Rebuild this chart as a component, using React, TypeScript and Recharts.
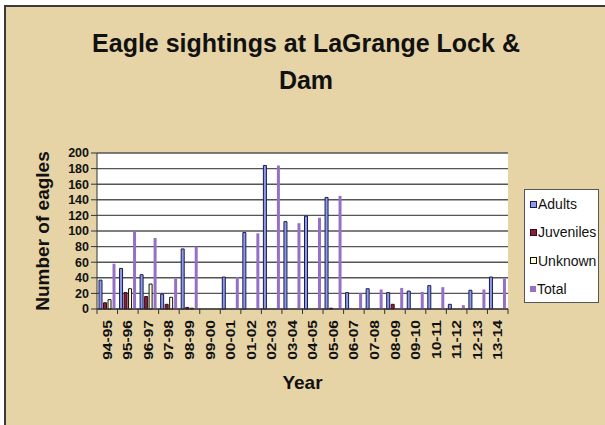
import { BarChart, Bar, XAxis, YAxis, CartesianGrid, Label } from "recharts";

// values
const years = [
  "94-95", "95-96", "96-97", "97-98", "98-99", "99-00", "00-01", "01-02", "02-03", "03-04",
  "04-05", "05-06", "06-07", "07-08", "08-09", "09-10", "10-11", "11-12", "12-13", "13-14",
];
const adults = [37, 52, 44, 19, 77, 0, 41, 98, 184, 112, 119, 143, 21, 26, 21, 23, 30, 6, 24, 41];
const juveniles = [8, 21, 16, 6, 2, 0, 0, 0, 0, 0, 0, 1, 0, 0, 6, 0, 0, 0, 0, 0];
const unknown = [12, 26, 32, 15, 1, 0, 0, 0, 0, 0, 0, 0, 0, 0, 0, 0, 0, 0, 0, 0];
const total = [58, 99, 91, 39, 80, 0, 41, 97, 184, 110, 117, 145, 20, 25, 27, 22, 28, 5, 25, 39];
const yTicks = [0, 20, 40, 60, 80, 100, 120, 140, 160, 180, 200];

const data = years.map((year, i) => ({
  year,
  Adults: adults[i],
  Juveniles: juveniles[i],
  Unknown: unknown[i],
  Total: total[i],
}));

const series = [
  { key: "Adults", fill: "#8c9cec", stroke: "#1b1b4e" },
  { key: "Juveniles", fill: "#86203e", stroke: "#3a0818" },
  { key: "Unknown", fill: "#ffffdc", stroke: "#111" },
  { key: "Total", fill: "#9670c6", stroke: "none" },
];

const FONT = '"Liberation Sans", Arial, sans-serif';

const YearTick = (props: any) => {
  const { x, y, payload, index } = props;
  const off = payload?.offset ?? 0;
  const ty = y + 11;
  return (
    <g>
      <line x1={x - off} x2={x - off} y1={y} y2={y + 5} stroke="#333" />
      {index === years.length - 1 && (
        <line x1={x + off} x2={x + off} y1={y} y2={y + 5} stroke="#333" />
      )}
      <text
        x={0}
        y={0}
        transform={`translate(${x} ${ty}) rotate(-90) scale(1.2 1)`}
        textAnchor="end"
        dominantBaseline="central"
        fontSize={13}
        fontWeight="bold"
        fontFamily={FONT}
        fill="#111"
      >
        {payload.value}
      </text>
    </g>
  );
};

const App = () => {
  return (
    <div
      style={{
        position: "absolute",
        left: 0,
        top: 0,
        width: 605,
        height: 425,
        background: "#fff",
        overflow: "hidden",
        fontFamily: FONT,
      }}
    >
      <div
        style={{
          position: "absolute",
          left: 4,
          top: 5,
          right: 0,
          bottom: 0,
          background: "#e7d4a6",
          borderTop: "2px solid #3a3a3a",
          borderLeft: "2px solid #3a3a3a",
        }}
      />
      <div
        style={{
          position: "absolute",
          left: 56,
          top: 25,
          width: 500,
          textAlign: "center",
          fontSize: 25,
          fontWeight: "bold",
          lineHeight: "37px",
          color: "#111",
        }}
      >
        Eagle sightings at LaGrange Lock &amp;
        <br />
        Dam
      </div>
      <div style={{ position: "absolute", left: 0, top: 0 }}>
        <BarChart
          width={605}
          height={425}
          data={data}
          margin={{ top: 153, right: 97, bottom: 0, left: 0 }}
          barGap={1.5}
          barSize={3}
        >
          <CartesianGrid vertical={false} fill="#fff" stroke="#555" strokeWidth={1.4} />
          <XAxis
            dataKey="year"
            interval={0}
            height={116}
            tickLine={false}
            tickSize={0}
            tickMargin={0}
            axisLine={{ stroke: "#333" }}
            tick={<YearTick />}
          >
            <Label
              content={(p: any) => {
                const vb = p.viewBox;
                return (
                  <text
                    x={vb.x + vb.width / 2}
                    y={vb.y + 73}
                    textAnchor="middle"
                    dominantBaseline="central"
                    fontSize={19}
                    fontWeight="bold"
                    fontFamily={FONT}
                    fill="#111"
                  >
                    Year
                  </text>
                );
              }}
            />
          </XAxis>
          <YAxis
            width={97}
            domain={[0, 200]}
            ticks={yTicks}
            interval={0}
            tickSize={6}
            tickMargin={2}
            tickLine={{ stroke: "#333" }}
            axisLine={{ stroke: "#333" }}
            tick={{ fontSize: 12.5, fontWeight: "bold", fill: "#111", fontFamily: FONT }}
          >
            <Label
              content={(p: any) => {
                const vb = p.viewBox;
                const cx = vb.x + 42;
                const cy = vb.y + vb.height / 2;
                return (
                  <text
                    x={cx}
                    y={cy}
                    transform={`rotate(-90 ${cx} ${cy})`}
                    textAnchor="middle"
                    dominantBaseline="central"
                    fontSize={19}
                    fontWeight="bold"
                    fontFamily={FONT}
                    fill="#111"
                  >
                    Number of eagles
                  </text>
                );
              }}
            />
          </YAxis>
          {series.map((s) => (
            <Bar
              key={s.key}
              dataKey={s.key}
              fill={s.fill}
              stroke={s.stroke}
              strokeWidth={1}
              isAnimationActive={false}
            />
          ))}
        </BarChart>
      </div>
      <div
        style={{
          position: "absolute",
          left: 524,
          top: 189,
          width: 75,
          height: 114,
          background: "#fff",
          border: "1px solid #555",
          boxSizing: "border-box",
        }}
      >
        {series.map((s, i) => (
          <div
            key={s.key}
            style={{
              position: "absolute",
              left: 5,
              top: 14 + i * 28.4 - 9,
              height: 18,
              display: "flex",
              alignItems: "center",
              fontSize: 14,
              color: "#111",
              whiteSpace: "nowrap",
            }}
          >
            <span
              style={{
                display: "inline-block",
                width: s.stroke === "none" ? 6 : 5,
                height: s.stroke === "none" ? 6 : 5,
                background: s.fill,
                border: s.stroke === "none" ? "none" : `1px solid ${s.stroke}`,
                marginRight: 1,
              }}
            />
            {s.key}
          </div>
        ))}
      </div>
    </div>
  );
};

export default App;
